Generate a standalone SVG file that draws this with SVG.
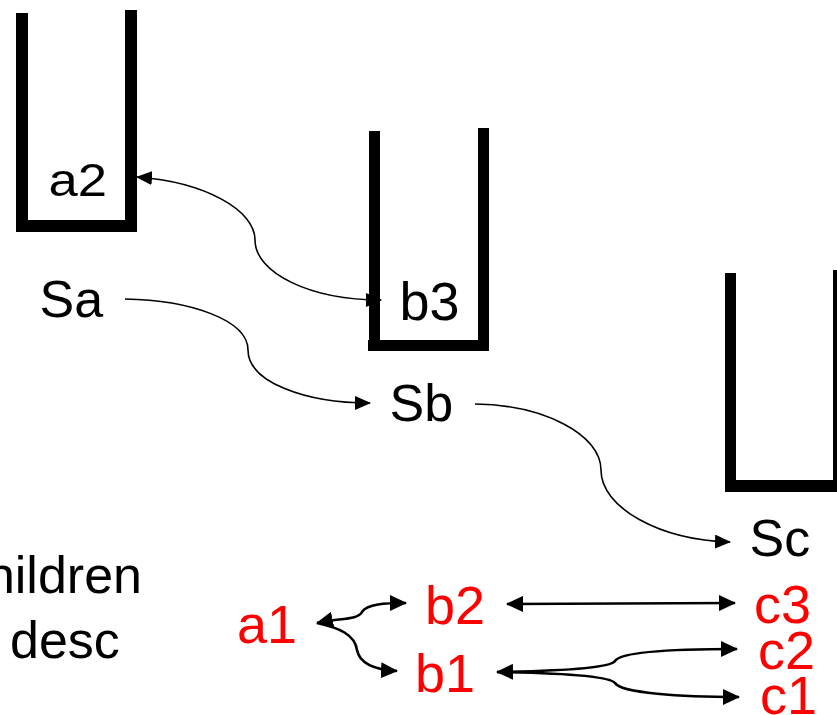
<svg xmlns="http://www.w3.org/2000/svg" width="837" height="715" viewBox="0 0 837 715">
<style>
.bar{fill:#000}
.lbl{font-family:"Liberation Sans",Arial,sans-serif;fill:#000}
.red{font-family:"Liberation Sans",Arial,sans-serif;fill:#f00;font-size:54px}
.c1{fill:none;stroke:#000;stroke-width:1.6}
.c2{fill:none;stroke:#000;stroke-width:2.6}
</style>
<defs>
<marker id="ah" markerUnits="userSpaceOnUse" markerWidth="16" markerHeight="14" refX="15" refY="7" orient="auto-start-reverse" viewBox="0 0 16 14">
<path d="M0,0 L16,7 L0,14 z" fill="#000"/>
</marker>
<marker id="ah2" markerUnits="userSpaceOnUse" markerWidth="17" markerHeight="16" refX="16" refY="8" orient="auto-start-reverse" viewBox="0 0 17 16">
<path d="M0,0 L17,8 L0,16 z" fill="#000"/>
</marker>
</defs>
<rect width="837" height="715" fill="#fff"/>

<g id="stackA">
<rect class="bar" x="16" y="13" width="12" height="219"/>
<rect class="bar" x="125" y="10" width="12" height="222"/>
<rect class="bar" x="16" y="220" width="121" height="12"/>
<text class="lbl" font-size="47" transform="translate(48.5,196) scale(1.12,1)">a2</text>
</g>
<g id="stackB">
<rect class="bar" x="369" y="131" width="11" height="220"/>
<rect class="bar" x="478" y="128" width="11" height="223"/>
<rect class="bar" x="368" y="340" width="121" height="11"/>
<text class="lbl" font-size="54" x="399.5" y="320">b3</text>
</g>
<g id="stackC">
<rect class="bar" x="725" y="273" width="11" height="219"/>
<rect class="bar" x="833" y="270" width="11" height="222"/>
<rect class="bar" x="725" y="480" width="120" height="12"/>
</g>

<g id="Sa"><text class="lbl" font-size="52" x="39.5" y="317">Sa</text></g>
<g id="Sb"><text class="lbl" font-size="52" x="389.5" y="421">Sb</text></g>
<g id="Sc"><text class="lbl" font-size="52" x="749.5" y="556">Sc</text></g>

<g id="caption">
<text class="lbl" font-size="52" x="142" y="593" text-anchor="end">children</text>
<text class="lbl" font-size="52" x="10" y="658">desc</text>
</g>

<g id="a1"><text class="red" font-size="52" x="237" y="643">a1</text></g>
<g id="b2"><text class="red" x="425" y="624">b2</text></g>
<g id="b1"><text class="red" x="415" y="692">b1</text></g>
<g id="c3"><text class="red" font-size="52" x="754" y="623">c3</text></g>
<g id="c2"><text class="red" font-size="52" x="758" y="669">c2</text></g>
<g id="c1"><text class="red" font-size="52" x="760" y="714">c1</text></g>

<g id="connectors">
<path class="c1" d="M137,177 C205,182 255,210 255,240 C255,273 310,300 381,300" marker-start="url(#ah)" marker-end="url(#ah)"/>
<path class="c1" d="M125,299 C190,300 248,320 248,350 C248,382 305,403 370,403" marker-end="url(#ah)"/>
<path class="c1" d="M475,404 C545,405 601,435 601,470 C601,508 660,540 730,542" marker-end="url(#ah)"/>
<path class="c2" d="M317,623 C340,618 358,620 362,612 C367,604 385,603 406,603" marker-start="url(#ah2)" marker-end="url(#ah2)"/>
<path class="c2" d="M317,623 C340,628 355,635 357,650 C360,665 378,670 397,671" marker-end="url(#ah2)"/>
<path class="c2" d="M507,604 L735,603" marker-start="url(#ah2)" marker-end="url(#ah2)"/>
<path class="c2" d="M497,672 C560,671 610,668 615,661 C621,651 680,649 737,649" marker-start="url(#ah2)" marker-end="url(#ah2)"/>
<path class="c2" d="M497,672 C560,673 610,676 615,683 C621,693 680,697 739,697" marker-end="url(#ah2)"/>
</g>
</svg>
